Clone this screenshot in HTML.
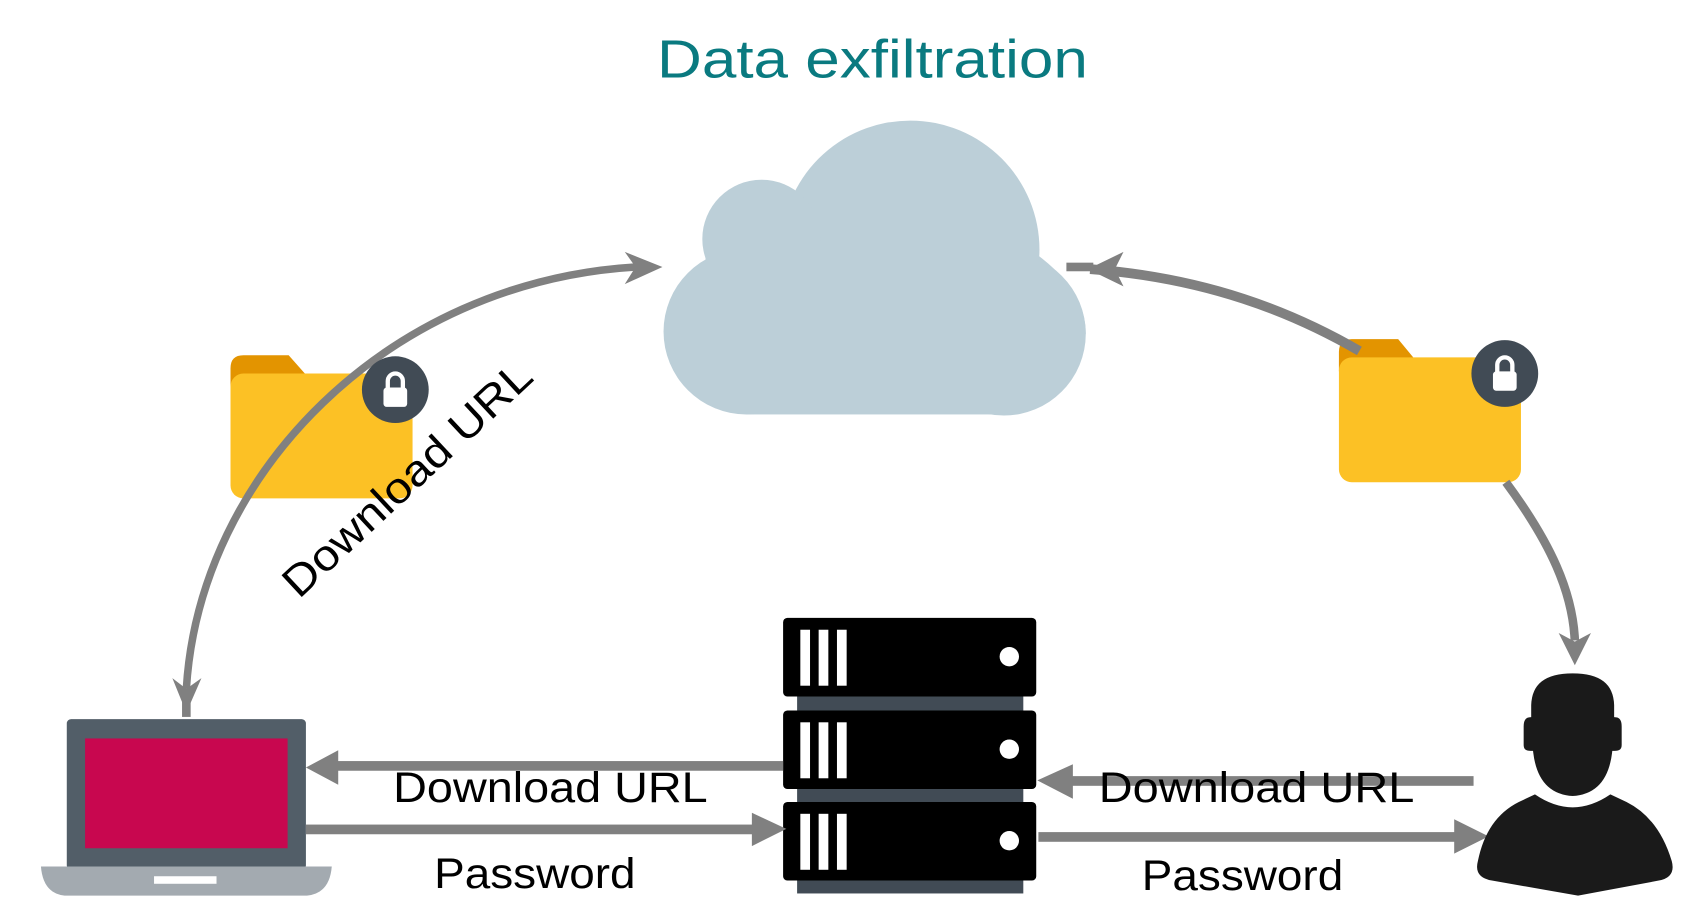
<!DOCTYPE html>
<html><head><meta charset="utf-8"><style>
html,body{margin:0;padding:0;background:#fff;}
svg{display:block;}
</style></head><body>
<svg width="1689" height="901" viewBox="0 0 1568 837" preserveAspectRatio="none" xmlns="http://www.w3.org/2000/svg">
<rect width="1568" height="837" fill="#fff"/>
<text x="810" y="72" text-anchor="middle" font-family="Liberation Sans, sans-serif" font-size="50" fill="#0a7a80" textLength="400" lengthAdjust="spacingAndGlyphs">Data exfiltration</text>

<!-- cloud -->
<g fill="#bccfd8">
<circle cx="845" cy="232" r="120"/>
<circle cx="707" cy="222" r="55"/>
<circle cx="693" cy="308" r="77"/>
<circle cx="932" cy="310" r="76"/>
<rect x="693" y="235" width="240" height="150"/>
<rect x="655" y="220" width="100" height="60"/>
<path d="M900,236 L962,236 Q1008,270 1008,310 L930,310 Z"/>
</g>

<!-- folders -->
<path d="M214,342 Q214,330 226,330 L268,330 L283,347 L214,360 Z" fill="#e39400"/>
<rect x="214" y="347" width="169" height="116" rx="12" fill="#fcc125"/>
<path d="M1243,327 Q1243,315 1255,315 L1298,315 L1312,332 L1243,345 Z" fill="#e39400"/>
<rect x="1243" y="332" width="169" height="116" rx="12" fill="#fcc125"/>

<!-- left curve arrow -->
<path d="M173,640 C185,440 360,262 590,248" fill="none" stroke="#808080" stroke-width="7"/>
<polygon points="615,248 580,234 590,248 580,264" fill="#808080"/>
<polygon points="173,662 160,630 173,640 187,630" fill="#808080"/>
<rect x="169" y="650" width="8" height="16" fill="#808080"/>

<!-- right curve arrows -->
<path d="M1012,250 C1120,258 1200,290 1262,326" fill="none" stroke="#808080" stroke-width="9"/>
<rect x="990" y="244" width="25" height="8" fill="#808080"/>
<polygon points="1010,250 1043,234 1035,250 1043,266" fill="#808080"/>
<path d="M1398,448 C1440,505 1460,550 1462,595" fill="none" stroke="#808080" stroke-width="8"/>
<polygon points="1462,618 1447,588 1462,596 1477,588" fill="#808080"/>

<!-- locks -->
<g>
<circle cx="367" cy="362" r="31" fill="#414b55"/>
<rect x="356" y="360" width="22" height="18" rx="3" fill="#fff"/>
<path d="M360,361 v-7 a7,7 0 0 1 14,0 v7" fill="none" stroke="#fff" stroke-width="4"/>
</g>
<g>
<circle cx="1397" cy="347" r="31" fill="#414b55"/>
<rect x="1386" y="345" width="22" height="18" rx="3" fill="#fff"/>
<path d="M1390,346 v-7 a7,7 0 0 1 14,0 v7" fill="none" stroke="#fff" stroke-width="4"/>
</g>

<text x="0" y="0" transform="translate(380,447) rotate(-43)" text-anchor="middle" dominant-baseline="middle" font-family="Liberation Sans, sans-serif" font-size="40" fill="#000" textLength="300" lengthAdjust="spacingAndGlyphs">Download URL</text>

<!-- server -->
<rect x="740" y="640" width="210" height="190" fill="#414b55"/>
<g fill="#000">
<rect x="727" y="574" width="235" height="73" rx="4"/>
<rect x="727" y="660" width="235" height="73" rx="4"/>
<rect x="727" y="745" width="235" height="73" rx="4"/>
</g>
<g fill="#fff">
<rect x="743" y="585" width="9" height="52"/><rect x="760" y="585" width="9" height="52"/><rect x="777" y="585" width="9" height="52"/>
<circle cx="937" cy="610" r="9"/>
<rect x="743" y="671" width="9" height="52"/><rect x="760" y="671" width="9" height="52"/><rect x="777" y="671" width="9" height="52"/>
<circle cx="937" cy="696" r="9"/>
<rect x="743" y="756" width="9" height="52"/><rect x="760" y="756" width="9" height="52"/><rect x="777" y="756" width="9" height="52"/>
<circle cx="937" cy="781" r="9"/>
</g>

<!-- laptop -->
<rect x="62" y="668" width="222" height="140" rx="4" fill="#525e68"/>
<rect x="79" y="686" width="188" height="102" fill="#c8074f"/>
<path d="M38,805 L308,805 Q306,830 285,832 L60,832 Q40,830 38,805 Z" fill="#a3aab0"/>
<rect x="143" y="814" width="58" height="7" fill="#fff"/>

<!-- bottom arrows -->
<rect x="310" y="707" width="417" height="9" fill="#808080"/>
<polygon points="284,713 314,697 314,729" fill="#808080"/>
<rect x="284" y="766" width="420" height="9" fill="#808080"/>
<polygon points="730,770 698,755 698,786" fill="#808080"/>
<rect x="992" y="721" width="376" height="9" fill="#808080"/>
<polygon points="963,725 996,710 996,742" fill="#808080"/>
<rect x="964" y="773" width="390" height="9" fill="#808080"/>
<polygon points="1382,777 1350,761 1350,793" fill="#808080"/>

<g font-family="Liberation Sans, sans-serif" font-size="40" fill="#000">
<text x="365" y="745" textLength="292" lengthAdjust="spacingAndGlyphs">Download URL</text>
<text x="403" y="825" textLength="187" lengthAdjust="spacingAndGlyphs">Password</text>
<text x="1020" y="745" textLength="293" lengthAdjust="spacingAndGlyphs">Download URL</text>
<text x="1060" y="827" textLength="187" lengthAdjust="spacingAndGlyphs">Password</text>
</g>

<!-- person -->
<path d="M1372,800 Q1380,760 1410,745 L1425,738 Q1460,762 1495,738 L1510,745 Q1540,760 1552,800 Q1556,815 1540,818 L1465,832 L1385,818 Q1368,815 1372,800 Z" fill="#1a1a1a"/>
<path d="M1412,675 Q1412,665 1419,664 L1419,655 Q1420,623 1460,623 Q1500,623 1501,655 L1501,664 Q1508,665 1508,675 L1508,692 Q1508,700 1499,700 Q1494,740 1460,742 Q1426,740 1421,700 Q1412,700 1412,692 Z" fill="#1a1a1a" stroke="#fff" stroke-width="5"/>
</svg>
</body></html>
